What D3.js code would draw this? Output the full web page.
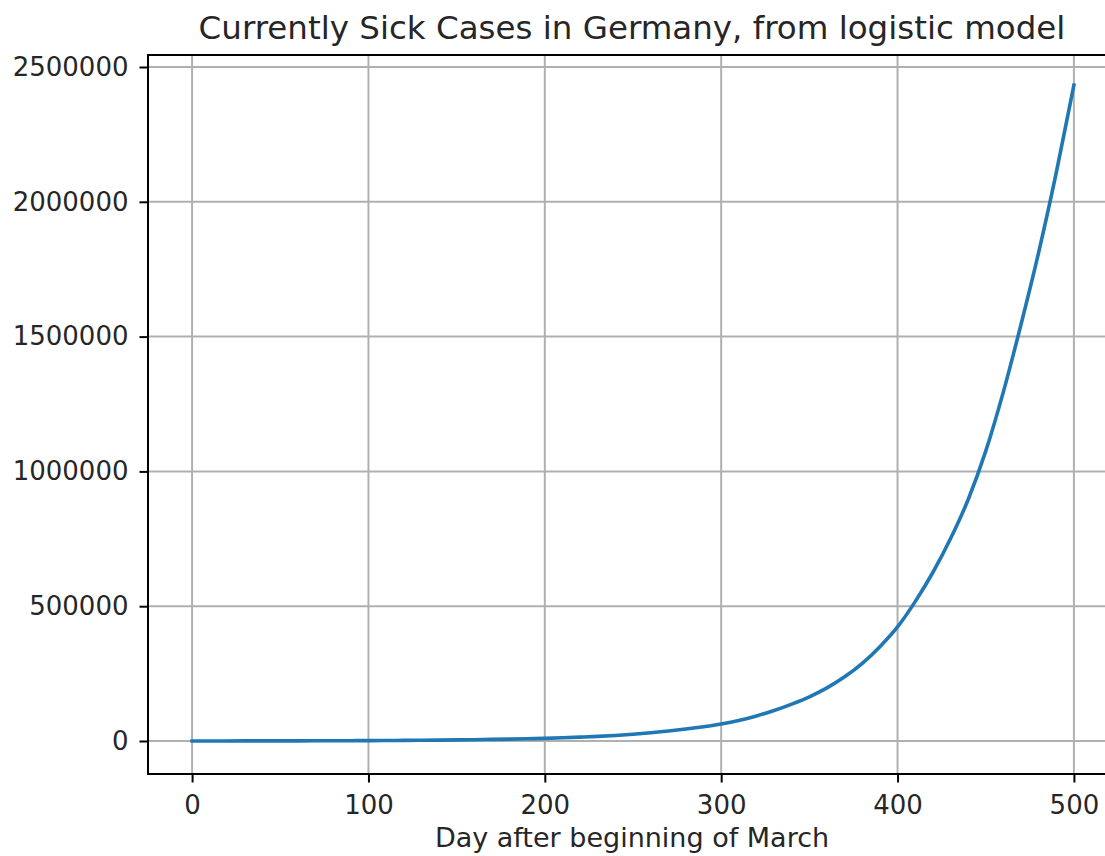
<!DOCTYPE html>
<html>
<head>
<meta charset="utf-8">
<script src="https://cdn.jsdelivr.net/npm/d3@7"></script>
<style>
  html, body { margin: 0; padding: 0; background: #fff; }
  svg { display: block; }
  text { font-family: "DejaVu Sans", sans-serif; fill: #262626; }
</style>
</head>
<body>
<svg id="chart" width="1105" height="856"></svg>
<script>
// Model output: currently sick cases, sampled every 10 days
const days = [0, 10, 20, 30, 40, 50, 60, 70, 80, 90,
  100, 110, 120, 130, 140, 150, 160, 170, 180, 190,
  200, 210, 220, 230, 240, 250, 260, 270, 280, 290,
  300, 310, 320, 330, 340, 350, 360, 370, 380, 390,
  400, 410, 420, 430, 440, 450, 460, 470, 480, 490, 500];
const sick = [150, 200, 250, 300, 400, 500, 600, 750, 950, 1200,
  1450, 1800, 2200, 2700, 3300, 4000, 4900, 5900, 7000, 8300,
  9800, 11800, 14200, 17000, 20500, 25000, 30500, 37000, 44500, 53000,
  63000, 76000, 93000, 113000, 137000, 164000, 197000, 238000, 288000, 350000,
  423000, 517000, 625000, 750000, 895000, 1075000, 1295000, 1545000, 1812000, 2108000, 2433000];

const xTicks = [0, 100, 200, 300, 400, 500];
const yTicks = [0, 500000, 1000000, 1500000, 2000000, 2500000];
const xDomain = [-25, 525];
const yDomain = [-122400, 2544500];

const title = "Currently Sick Cases in Germany, from logistic model";
const xLabel = "Day after beginning of March";

const svg = d3.select("#chart");
const m = { left: 148, top: 55, bottom: 774, right: 1118 };

const x = d3.scaleLinear().domain(xDomain).range([m.left, m.right]);
const y = d3.scaleLinear().domain(yDomain).range([m.bottom, m.top]);

const plot = svg.append("g");

// grid
plot.selectAll("line.gx").data(xTicks).join("line")
  .attr("class", "gx")
  .attr("x1", d => x(d)).attr("x2", d => x(d))
  .attr("y1", m.top).attr("y2", m.bottom)
  .attr("stroke", "#b0b0b0").attr("stroke-width", 2);
plot.selectAll("line.gy").data(yTicks).join("line")
  .attr("class", "gy")
  .attr("x1", m.left).attr("x2", m.right)
  .attr("y1", d => y(d)).attr("y2", d => y(d))
  .attr("stroke", "#b0b0b0").attr("stroke-width", 2);

// data line
svg.append("clipPath").attr("id", "clip")
  .append("rect").attr("x", m.left).attr("y", m.top)
  .attr("width", m.right - m.left).attr("height", m.bottom - m.top);

const pts = days.map((d, i) => [d, sick[i]]);
plot.append("path")
  .datum(pts)
  .attr("clip-path", "url(#clip)")
  .attr("fill", "none")
  .attr("stroke", "#1f77b4")
  .attr("stroke-width", 3.6)
  .attr("stroke-linejoin", "round")
  .attr("stroke-linecap", "square")
  .attr("d", d3.line().x(d => x(d[0])).y(d => y(d[1])).curve(d3.curveMonotoneX));

// axes
const xAxis = d3.axisBottom(x).tickValues(xTicks).tickSize(8.5).tickPadding(13).tickFormat(d3.format("d"));
const yAxis = d3.axisLeft(y).tickValues(yTicks).tickSize(8.5).tickPadding(11).tickFormat(d3.format("d"));

const gx = svg.append("g").attr("transform", `translate(0,${m.bottom})`).call(xAxis);
const gy = svg.append("g").attr("transform", `translate(${m.left},0)`).call(yAxis);

[gx, gy].forEach(g => {
  g.select(".domain").remove();
  g.selectAll(".tick line").attr("stroke", "#000").attr("stroke-width", 2);
  g.selectAll(".tick text").attr("font-size", 26).attr("fill", "#262626")
    .attr("font-family", "DejaVu Sans, sans-serif");
});

// spines
svg.append("rect")
  .attr("x", m.left).attr("y", m.top)
  .attr("width", m.right - m.left).attr("height", m.bottom - m.top)
  .attr("fill", "none").attr("stroke", "#000").attr("stroke-width", 2);

// titles
svg.append("text")
  .attr("x", 632).attr("y", 39)
  .attr("text-anchor", "middle")
  .attr("font-size", 32.5)
  .text(title);

svg.append("text")
  .attr("x", 632).attr("y", 847)
  .attr("text-anchor", "middle")
  .attr("font-size", 27)
  .text(xLabel);
</script>
</body>
</html>
